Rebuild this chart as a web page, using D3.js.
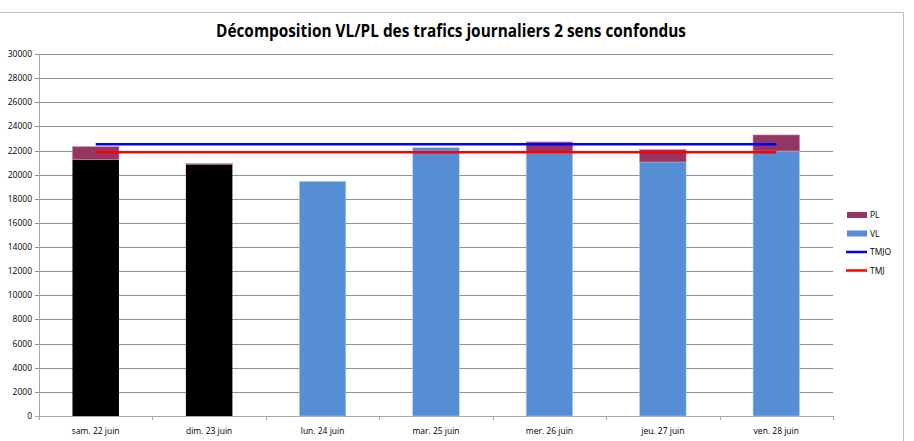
<!DOCTYPE html>
<html>
<head>
<meta charset="utf-8">
<script src="https://cdn.jsdelivr.net/npm/d3@7"></script>
<style>
    body { margin: 0; background: #fff; }
    svg text { font-family: "Liberation Sans Narrow", "Open Sans", "DejaVu Sans Condensed", sans-serif; }
</style>
</head>
<body>
<svg width="914" height="441"></svg>
<script>
    // data
    let days = ["sam. 22 juin", "dim. 23 juin", "lun. 24 juin", "mar. 25 juin", "mer. 26 juin", "jeu. 27 juin", "ven. 28 juin"];
    let vl = [21240, 20860, 19450, 22240, 21770, 21050, 21960];
    let pl = [1080, 60, 0, 0, 940, 1020, 1330];
    let weekend = [true, true, false, false, false, false, false];
    let tmjo = 22520;
    let tmj = 21860;
    let yTicks = d3.range(0, 30001, 2000);

    let svg = d3.select("svg");

    // chart frame
    svg.append("path")
        .attr("d", "M0,12.5 H903.5 V441")
        .attr("fill", "none")
        .attr("stroke", "#bdbdbd")
        .attr("stroke-width", 1);

    svg.append("text")
        .attr("x", 451)
        .attr("y", 37)
        .attr("text-anchor", "middle")
        .attr("font-size", 17)
        .attr("font-weight", "bold")
        .attr("textLength", 470)
        .attr("lengthAdjust", "spacingAndGlyphs")
        .attr("fill", "#000")
        .text("Décomposition VL/PL des trafics journaliers 2 sens confondus");

    let plotLeft = 39, plotRight = 833, plotTop = 54, plotBottom = 416;

    let x = d3.scaleBand().domain(days).range([plotLeft, plotRight]).paddingInner(0.59).paddingOuter(0.295);
    let xc = d3.scaleBand().domain(days).range([plotLeft, plotRight]);
    let y = d3.scaleLinear().domain([0, 30000]).range([plotBottom, plotTop]);

    // grid
    svg.append("g")
        .selectAll("line")
        .data(yTicks)
        .enter().append("line")
        .attr("x1", plotLeft - 4)
        .attr("x2", plotRight)
        .attr("y1", d => Math.round(y(d)) + 0.5)
        .attr("y2", d => Math.round(y(d)) + 0.5)
        .attr("stroke", d => d === 0 ? "#a6a6a6" : "#929292")
        .attr("stroke-width", 1);

    // y labels
    svg.append("g")
        .selectAll("text")
        .data(yTicks)
        .enter().append("text")
        .attr("x", 32)
        .attr("y", d => y(d) + 3)
        .attr("text-anchor", "end")
        .attr("font-size", 8.5)
        .attr("fill", "#000")
        .text(d => d);

    // axes
    svg.append("line")
        .attr("x1", plotLeft + 0.5).attr("x2", plotLeft + 0.5)
        .attr("y1", plotTop).attr("y2", plotBottom + 4)
        .attr("stroke", "#a6a6a6");

    svg.append("g")
        .selectAll("line")
        .data(d3.range(days.length + 1))
        .enter().append("line")
        .attr("x1", i => Math.round(plotLeft + i * xc.step()) + 0.5)
        .attr("x2", i => Math.round(plotLeft + i * xc.step()) + 0.5)
        .attr("y1", plotBottom)
        .attr("y2", plotBottom + 4)
        .attr("stroke", "#a6a6a6");

    // x labels
    svg.append("g")
        .selectAll("text")
        .data(days)
        .enter().append("text")
        .attr("x", d => xc(d) + xc.bandwidth() / 2)
        .attr("y", 434)
        .attr("text-anchor", "middle")
        .attr("font-size", 8.5)
        .attr("fill", "#000")
        .text(d => d);

    // VL bars
    svg.append("g")
        .selectAll("rect")
        .data(days)
        .enter().append("rect")
        .attr("x", d => x(d))
        .attr("width", x.bandwidth())
        .attr("y", (d, i) => y(vl[i]))
        .attr("height", (d, i) => y(0) - y(vl[i]))
        .attr("fill", (d, i) => weekend[i] ? "#000000" : "#558ed5")
        .attr("stroke", (d, i) => weekend[i] ? "none" : "#b9cde8")
        .attr("stroke-width", 0.6);

    // PL bars
    svg.append("g")
        .selectAll("rect")
        .data(days)
        .enter().append("rect")
        .attr("x", d => x(d))
        .attr("width", x.bandwidth())
        .attr("y", (d, i) => y(vl[i] + pl[i]))
        .attr("height", (d, i) => y(vl[i]) - y(vl[i] + pl[i]))
        .attr("fill", "#953564")
        .attr("stroke", (d, i) => pl[i] > 0 ? "#c88aa6" : "none")
        .attr("stroke-width", 0.6);

    let c0 = xc(days[0]) + xc.bandwidth() / 2;
    let c1 = xc(days[days.length - 1]) + xc.bandwidth() / 2;

    svg.append("line")
        .attr("x1", c0).attr("x2", c1)
        .attr("y1", y(tmjo)).attr("y2", y(tmjo))
        .attr("stroke", "#0000ff")
        .attr("stroke-width", 2.5);

    svg.append("line")
        .attr("x1", c0).attr("x2", c1)
        .attr("y1", y(tmj)).attr("y2", y(tmj))
        .attr("stroke", "#ff0000")
        .attr("stroke-width", 2.5);

    // legend
    let legend = [
        {name: "PL", type: "rect", color: "#953564"},
        {name: "VL", type: "rect", color: "#558ed5"},
        {name: "TMJO", type: "line", color: "#0000ff"},
        {name: "TMJ", type: "line", color: "#ff0000"}
    ];

    let lg = svg.append("g")
        .selectAll("g")
        .data(legend)
        .enter().append("g")
        .attr("transform", (d, i) => "translate(847," + (215 + i * 18.5) + ")");

    lg.filter(d => d.type === "rect").append("rect")
        .attr("x", 0).attr("y", -3)
        .attr("width", 20).attr("height", 6)
        .attr("fill", d => d.color);

    lg.filter(d => d.type === "line").append("line")
        .attr("x1", -1).attr("x2", 20)
        .attr("y1", 0).attr("y2", 0)
        .attr("stroke", d => d.color)
        .attr("stroke-width", 2.5);

    lg.append("text")
        .attr("x", 23)
        .attr("y", 3)
        .attr("font-size", 8.5)
        .attr("fill", "#000")
        .text(d => d.name);
</script>
</body>
</html>
